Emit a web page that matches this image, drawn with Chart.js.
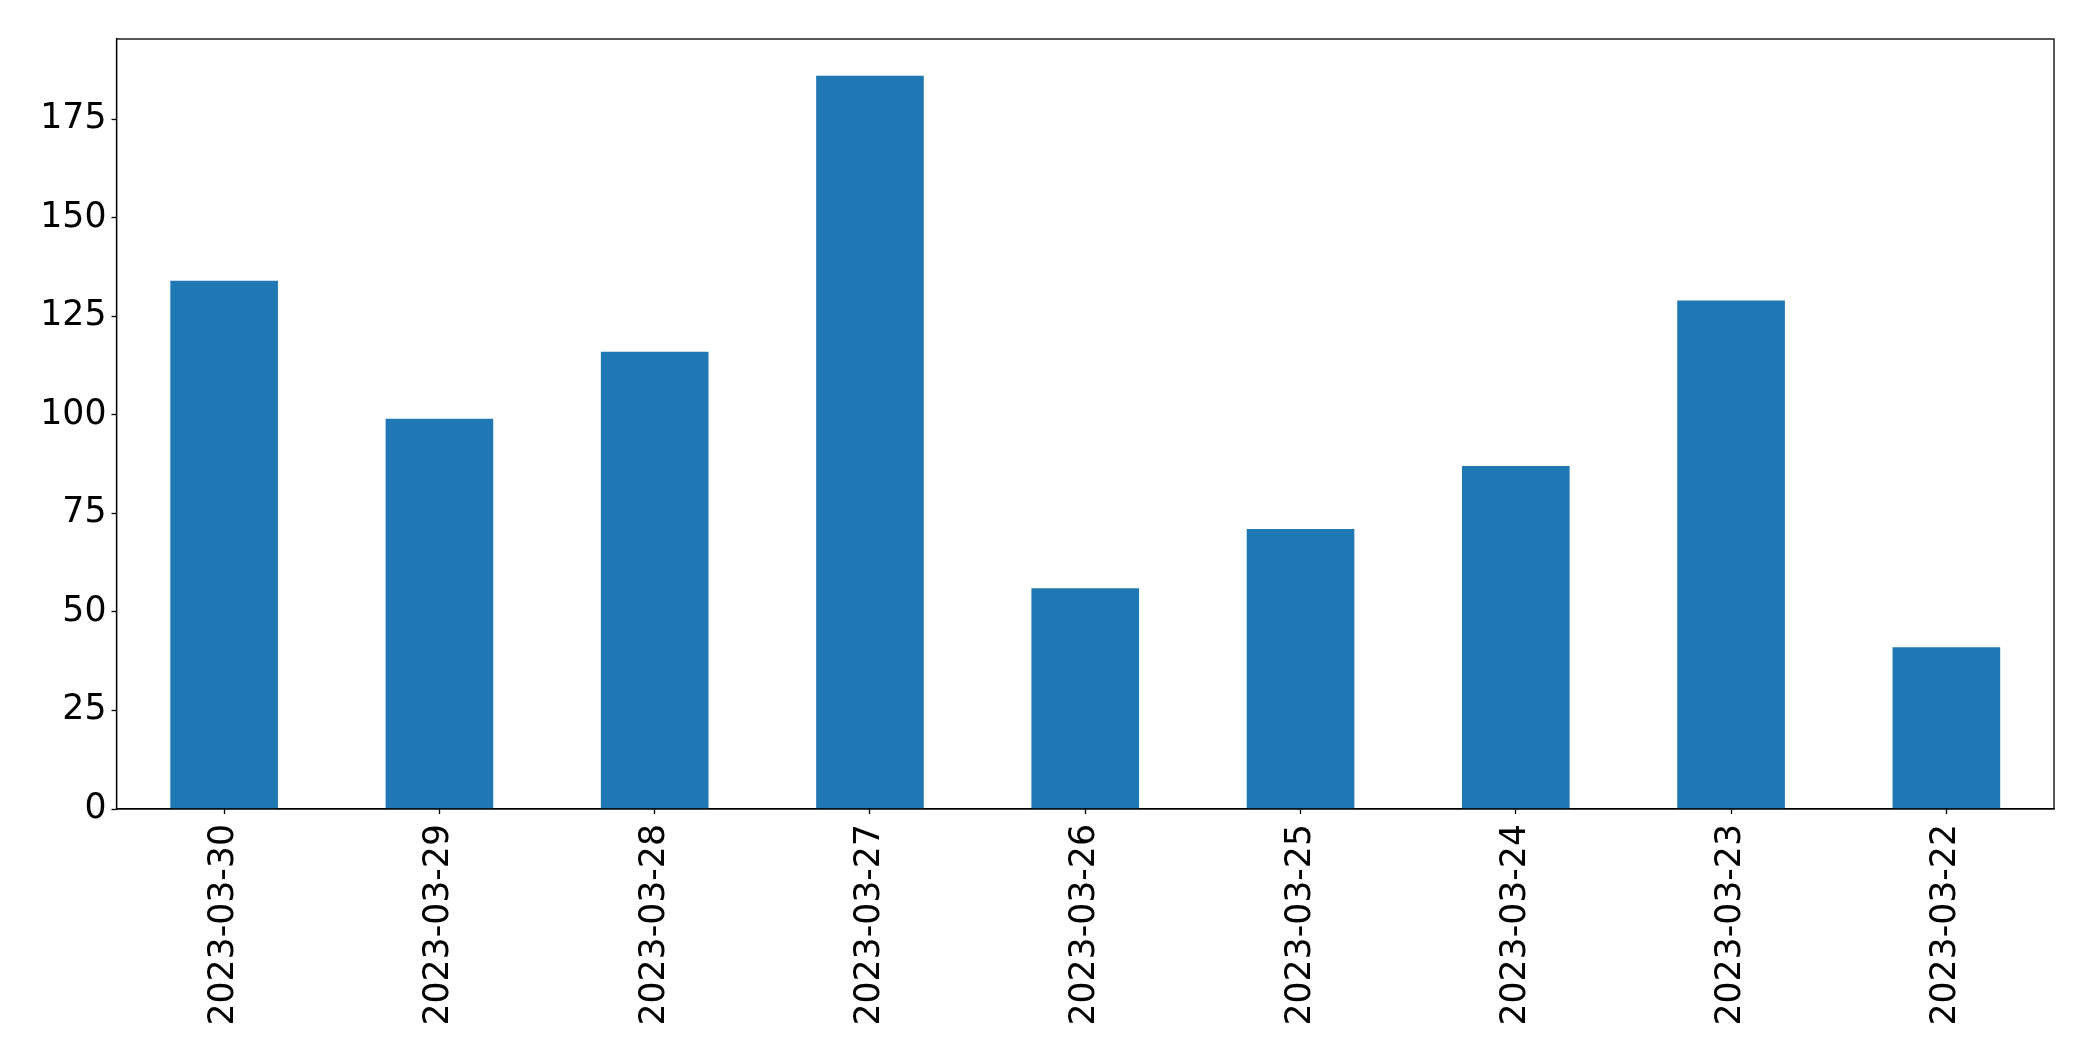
<!DOCTYPE html>
<html>
<head>
<meta charset="utf-8">
<script src="https://cdn.jsdelivr.net/npm/chart.js@4/dist/chart.umd.min.js"></script>
<style>
    html, body { margin: 0; padding: 0; background: #fff; }
    #wrap { width: 2093px; height: 1061px; }
</style>
</head>
<body>
<div id="wrap"><canvas id="barChart" width="2093" height="1061"></canvas></div>
<script>
const dates = ['2023-03-30', '2023-03-29', '2023-03-28', '2023-03-27', '2023-03-26',
               '2023-03-25', '2023-03-24', '2023-03-23', '2023-03-22'];
const counts = [134, 99, 116, 186, 56, 71, 87, 129, 41];
const yTicks = [0, 25, 50, 75, 100, 125, 150, 175];

// box around the plot area, like matplotlib spines
const frame = {
    id: 'frame',
    afterDraw(chart) {
        const a = chart.chartArea;
        const ctx = chart.ctx;
        ctx.save();
        ctx.strokeStyle = '#000';
        ctx.lineWidth = 1.3;
        ctx.strokeRect(a.left, a.top, a.right - a.left, a.bottom - a.top);
        ctx.restore();
    }
};

const tickFont = { family: 'DejaVu Sans', size: 34.7 };

new Chart(document.getElementById('barChart'), {
    type: 'bar',
    data: {
        labels: dates,
        datasets: [{
            data: counts,
            backgroundColor: '#1f77b4',
            borderWidth: 0,
            categoryPercentage: 1.0,
            barPercentage: 0.5
        }]
    },
    options: {
        responsive: false,
        animation: false,
        layout: { padding: { left: 0, top: 39, right: 39, bottom: 0 } },
        plugins: { legend: { display: false }, tooltip: { enabled: false } },
        scales: {
            x: {
                offset: true,
                grid: { display: true, offset: false, drawOnChartArea: false, drawTicks: true, tickLength: 5, tickColor: '#000', tickWidth: 1.3 },
                border: { display: true, color: '#000', width: 1.3 },
                ticks: { color: '#000', font: tickFont, minRotation: 90, maxRotation: 90, padding: 10, autoSkip: false },
                afterFit(scale) { scale.height = 252; }
            },
            y: {
                min: 0,
                max: Math.max(...counts) * 1.05,
                grid: { display: true, drawOnChartArea: false, drawTicks: true, tickLength: 5, tickColor: '#000', tickWidth: 1.3 },
                border: { display: true, color: '#000', width: 1.3 },
                ticks: { color: '#000', font: tickFont, padding: 5 },
                afterBuildTicks(scale) { scale.ticks = yTicks.map(v => ({ value: v })); },
                afterFit(scale) { scale.width = 116.5; }
            }
        }
    },
    plugins: [frame]
});
</script>
</body>
</html>
